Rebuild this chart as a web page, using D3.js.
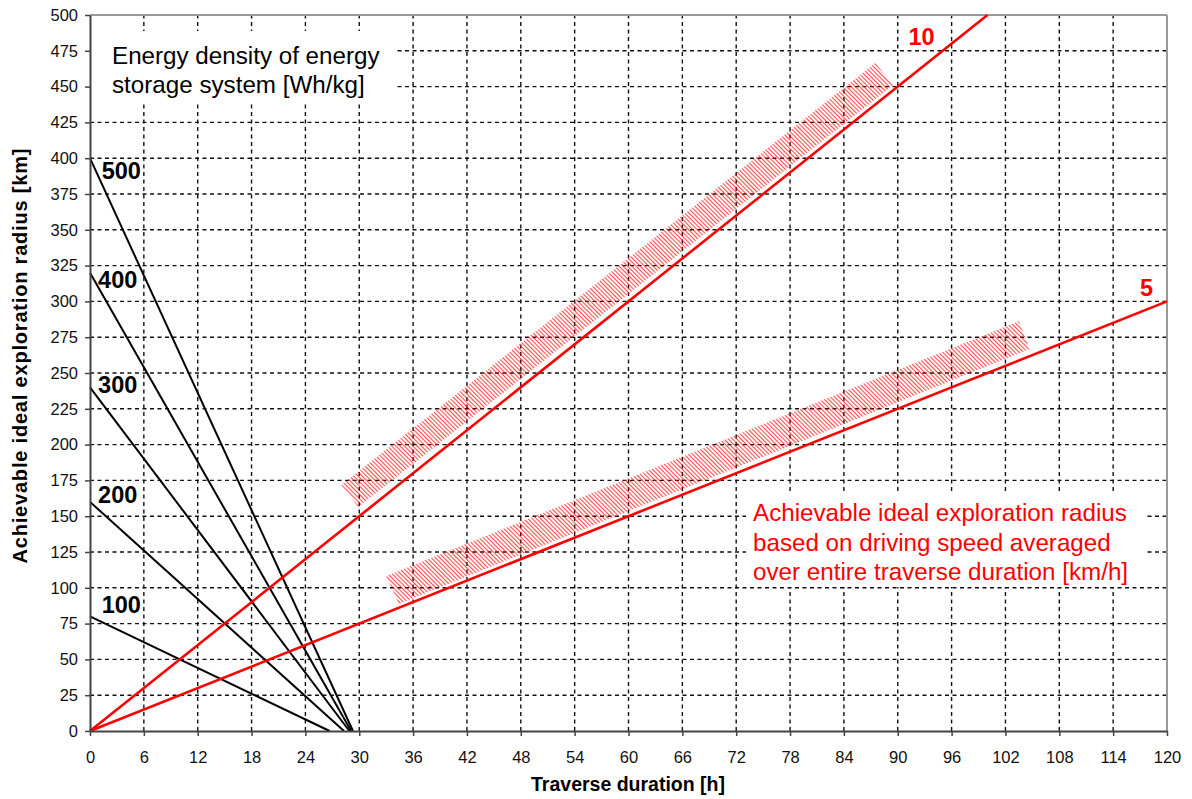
<!DOCTYPE html>
<html>
<head>
<meta charset="utf-8">
<script src="https://cdn.jsdelivr.net/npm/d3@7"></script>
<style>
  html, body { margin: 0; padding: 0; background: #fff; }
  svg { display: block; font-family: "Liberation Sans", Arial, sans-serif; }
</style>
</head>
<body>
<svg id="chart" width="1192" height="799"></svg>
<script>
// Axis ticks
const durationTicks = [0, 6, 12, 18, 24, 30, 36, 42, 48, 54, 60, 66, 72, 78, 84, 90, 96, 102, 108, 114, 120];
const radiusTicks = [0, 25, 50, 75, 100, 125, 150, 175, 200, 225, 250, 275, 300, 325, 350, 375, 400, 425, 450, 475, 500];

// Energy density of the storage system [Wh/kg]
const energyDensities = [100, 200, 300, 400, 500];
// Radius at zero traverse duration [km]
const energyRadiusAtStart = [80, 160, 240, 320, 400];
// Traverse duration at which the radius falls to zero [h]
const energyDurationAtEnd = [26.7, 28.3, 28.9, 29.1, 29.3];

// Average driving speed [km/h] and the radius reached at the end of each line
const speeds = [10, 5];
const speedEndDuration = [100, 120];
const speedEndRadius = [500, 300];

// Hatched ranges along each speed line: corners as [duration h, radius km]
const speedBands = [
  [[29.9, 156.4], [28.0, 171.8], [87.5, 466.5], [89.5, 451.1]],
  [[34.4, 88.7], [33.0, 108.2], [103.5, 286.3], [104.7, 266.8]]
];

const svg = d3.select("#chart");
const W = 1192, H = 799;
const m = { left: 90, right: 25, top: 15, bottom: 68 };

const x = d3.scaleLinear().domain([0, 120]).range([m.left, W - m.right]);
const y = d3.scaleLinear().domain([0, 500]).range([H - m.bottom, m.top]);

const RED = "#ff0000";

// Hatch pattern for the speed bands
const defs = svg.append("defs");
defs.append("pattern")
  .attr("id", "hatch")
  .attr("patternUnits", "userSpaceOnUse")
  .attr("width", 3).attr("height", 10)
  .attr("patternTransform", "rotate(-45)")
  .append("rect")
  .attr("x", 0).attr("y", 0).attr("width", 1.1).attr("height", 10)
  .attr("fill", RED).attr("fill-opacity", 0.7);

// Grid
const grid = svg.append("g").attr("class", "grid");
grid.selectAll("line.h").data(radiusTicks.filter(d => d > 0 && d < 500)).join("line")
  .attr("x1", x(0)).attr("x2", x(120))
  .attr("y1", d => y(d)).attr("y2", d => y(d))
  .attr("stroke", "#111").attr("stroke-width", 1.4).attr("stroke-dasharray", "4,3.5");
grid.selectAll("line.v").data(durationTicks.filter(d => d > 0 && d < 120)).join("line")
  .attr("y1", y(0)).attr("y2", y(500))
  .attr("x1", d => x(d)).attr("x2", d => x(d))
  .attr("stroke", "#111").attr("stroke-width", 1.4).attr("stroke-dasharray", "4,3.5");

// White panels behind the two text blocks
svg.append("rect").attr("x", x(0) + 1).attr("y", 31).attr("width", 305).attr("height", 72).attr("fill", "#fff");
svg.append("rect").attr("x", 746).attr("y", 494).attr("width", 398).attr("height", 93).attr("fill", "#fff");

// Plot frame: top and right in light grey
svg.append("line").attr("x1", x(0)).attr("x2", x(120)).attr("y1", y(500)).attr("y2", y(500))
  .attr("stroke", "#999").attr("stroke-width", 2);
svg.append("line").attr("x1", x(120)).attr("x2", x(120)).attr("y1", y(0)).attr("y2", y(500))
  .attr("stroke", "#999").attr("stroke-width", 2);

// Hatched bands
svg.append("g").selectAll("path").data(speedBands).join("path")
  .attr("d", d => "M" + d.map(p => [x(p[0]), y(p[1])].join(",")).join("L") + "Z")
  .attr("fill", "url(#hatch)");

const line = d3.line().x(d => x(d[0])).y(d => y(d[1]));

// Energy density lines
const energy = energyDensities.map((e, i) => ({
  label: String(e),
  pts: [[0, energyRadiusAtStart[i]], [energyDurationAtEnd[i], 0]]
}));
svg.append("g").selectAll("path").data(energy).join("path")
  .attr("d", d => line(d.pts))
  .attr("fill", "none").attr("stroke", "#000").attr("stroke-width", 2);

// Speed lines
const speedData = speeds.map((s, i) => ({
  label: String(s),
  pts: [[0, 0], [speedEndDuration[i], speedEndRadius[i]]]
}));
svg.append("g").selectAll("path").data(speedData).join("path")
  .attr("d", d => line(d.pts))
  .attr("fill", "none").attr("stroke", RED).attr("stroke-width", 2.6);

// Axes
const yAxis = svg.append("g").attr("transform", `translate(${x(0)},0)`)
  .call(d3.axisLeft(y).tickValues(radiusTicks).tickSize(5).tickPadding(7).tickSizeOuter(0));
const xAxis = svg.append("g").attr("transform", `translate(0,${y(0)})`)
  .call(d3.axisBottom(x).tickValues(durationTicks).tickSize(5).tickPadding(15).tickSizeOuter(0));
[yAxis, xAxis].forEach(a => {
  a.select(".domain").attr("stroke", "#444").attr("stroke-width", 2);
  a.selectAll(".tick line").attr("stroke", "#444").attr("stroke-width", 1.5);
  a.selectAll(".tick text").attr("fill", "#111").style("font-size", "16.5px")
    .style("font-family", "'Liberation Sans', Arial, sans-serif");
});

// Energy density labels, placed just right of each line's start
const energyLabelSpots = [[1.3, 82.4], [0.9, 159.2], [0.9, 236], [0.9, 309.4], [1.3, 385.5]];
svg.append("g").selectAll("text").data(energy).join("text")
  .attr("x", (d, i) => x(energyLabelSpots[i][0]))
  .attr("y", (d, i) => y(energyLabelSpots[i][1]))
  .attr("font-size", 23.5).attr("font-weight", "bold").attr("fill", "#000")
  .text(d => d.label);

// Speed labels near the end of each speed line
const speedLabelSpots = [[91.2, 479], [117.0, 304]];
svg.append("g").selectAll("text").data(speedData).join("text")
  .attr("x", (d, i) => x(speedLabelSpots[i][0]))
  .attr("y", (d, i) => y(speedLabelSpots[i][1]))
  .attr("font-size", 23.5).attr("font-weight", "bold").attr("fill", RED)
  .text(d => d.label);

// Text blocks
const energyTitle = svg.append("text").attr("font-size", 24.2).attr("fill", "#000");
energyTitle.append("tspan").attr("x", 112).attr("y", 64).text("Energy density of energy");
energyTitle.append("tspan").attr("x", 112).attr("y", 93).text("storage system [Wh/kg]");

const speedNote = svg.append("text").attr("font-size", 24.2).attr("fill", RED);
["Achievable ideal exploration radius",
 "based on driving speed averaged",
 "over entire traverse duration [km/h]"].forEach((t, i) => {
  speedNote.append("tspan").attr("x", 753).attr("y", 521 + i * 29.5).text(t);
});

// Axis titles
svg.append("text").attr("x", 628).attr("y", 791)
  .attr("text-anchor", "middle").attr("font-size", 19.5).attr("font-weight", "bold")
  .text("Traverse duration [h]");
svg.append("text")
  .attr("transform", "translate(27,356) rotate(-90)")
  .attr("text-anchor", "middle").attr("font-size", 20).attr("font-weight", "bold")
  .attr("textLength", 415).attr("lengthAdjust", "spacing")
  .text("Achievable ideal exploration radius [km]");
</script>
</body>
</html>
